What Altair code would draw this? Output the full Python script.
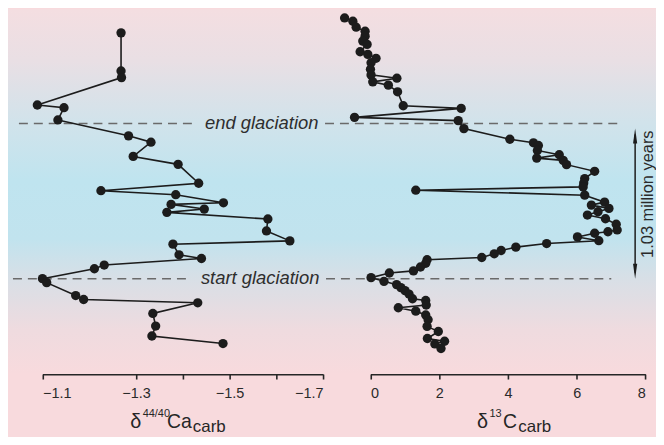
import altair as alt
import pandas as pd

# ---- data (stratigraphic height in arbitrary units) ----
ca_x = [-1.268, -1.268, -1.269, -1.089, -1.146, -1.133, -1.284, -1.332, -1.294, -1.390,
        -1.434, -1.225, -1.385, -1.487, -1.375, -1.446, -1.366, -1.582, -1.579, -1.629,
        -1.379, -1.392, -1.440, -1.232, -1.211, -1.100, -1.109, -1.171, -1.188, -1.432,
        -1.336, -1.342, -1.334, -1.486]
ca_h = [343.3, 305, 298.3, 270.7, 268, 255.7, 239.7, 233.3, 219, 211,
        192, 184.5, 180.5, 172.3, 170.7, 166, 162.7, 156, 144, 134,
        130.7, 120, 116.3, 109.7, 106, 96, 92, 79, 75, 71.7,
        61, 48.3, 38.3, 30.7]

c_x = [-0.752, -0.512, -0.416, -0.156, -0.156, -0.223, -0.098, -0.301, -0.078, 0.162,
       0.017, 0.0, 0.017, 0.769, 0.067, 0.521, 0.789, 0.954, 2.640, -0.463,
       2.554, 2.718, 4.057, 4.743, 4.887, 4.858, 5.494, 4.838, 5.610, 5.706,
       6.524, 6.235, 6.206, 6.189, 1.319, 6.235, 6.813, 6.429, 6.940, 6.622,
       6.313, 6.839, 7.152, 7.180, 6.911, 6.524, 6.024, 6.645, 5.127, 4.231,
       3.803, 3.603, 3.239, 1.648, 1.608, 1.455, 1.252, 0.549, 0.017, 0.393,
       0.761, 0.885, 1.006, 1.122, 1.223, 1.608, 1.622, 0.810, 1.319, 1.608,
       1.677, 1.648, 1.975, 1.657, 2.157, 1.874, 2.053]
c_h = [358.3, 355, 349, 345, 340, 335, 331.7, 324.3, 321.7, 317.7,
       313.3, 306.7, 301, 297.7, 294, 290.7, 284, 270, 267.3, 258.3,
       255, 247, 236.3, 232.7, 230, 225, 220.7, 217.3, 215, 210.7,
       204, 196.7, 192.3, 188.3, 185, 180, 173, 170, 166.7, 163.3,
       160, 156.3, 150.8, 145, 143.2, 141.7, 138, 134.2, 131.3, 127.7,
       124.3, 121, 117.3, 115, 111.5, 107.7, 103.8, 101.7, 97, 93.3,
       90, 87, 84, 80.5, 75.8, 74, 69.5, 66.7, 63.3, 59.5,
       54.7, 48, 42.8, 35.8, 33, 30.3, 25.7]

ca_ticks = [-1.1, -1.3, -1.4, -1.5, -1.6, -1.7]
ca_labels = [-1.1, -1.3, -1.5, -1.7]
c_ticks = [0, 2, 4, 6, 8]

end_glaciation_h = 252
start_glaciation_h = 96

FONT = "Liberation Sans"
INK = "#1c1c1c"
W, H = 652, 367

df_ca = pd.DataFrame({"x": ca_x, "h": ca_h, "i": range(len(ca_x))})
df_c = pd.DataFrame({"x": c_x, "h": c_h, "i": range(len(c_x))})
one = pd.DataFrame({"a": [0]})

yscale = alt.Scale(domain=[0, 367], nice=False, zero=False)
Y = alt.Y("h:Q", scale=yscale, axis=None)

# ---- background gradient ----
grad = alt.LinearGradient(
    gradient="linear", x1=0, x2=0, y1=0, y2=1,
    stops=[
        alt.GradientStop(offset=0.0, color="#f4dee1"),
        alt.GradientStop(offset=0.14, color="#e9dfe4"),
        alt.GradientStop(offset=0.31, color="#d1e3eb"),
        alt.GradientStop(offset=0.47, color="#bfe4ef"),
        alt.GradientStop(offset=0.63, color="#c1e3ee"),
        alt.GradientStop(offset=0.74, color="#d8dfe6"),
        alt.GradientStop(offset=0.88, color="#efdbdf"),
        alt.GradientStop(offset=1.0, color="#f8dadd"),
    ],
)
bg = alt.Chart(one).mark_rect(color=grad).encode(
    x=alt.value(0), x2=alt.value(W), y=alt.value(0), y2=alt.value(H)
)

# ---- glaciation dashed lines and labels ----
df_end = pd.DataFrame({"h": [end_glaciation_h]})
df_start = pd.DataFrame({"h": [start_glaciation_h]})
dash = dict(strokeDash=[9, 6], color="#6a6a6a", strokeWidth=1.5)
rules = [
    alt.Chart(df_end).mark_rule(**dash).encode(x=alt.value(11), x2=alt.value(189), y=Y),
    alt.Chart(df_end).mark_rule(**dash).encode(x=alt.value(319), x2=alt.value(617), y=Y),
    alt.Chart(df_start).mark_rule(**dash).encode(x=alt.value(5), x2=alt.value(185), y=Y),
    alt.Chart(df_start).mark_rule(**dash).encode(x=alt.value(320), x2=alt.value(607), y=Y),
]
gl_style = dict(font=FONT, fontSize=18.5, fontStyle="italic", color="#2e2e2e",
                align="center", baseline="alphabetic")
gl_text = [
    alt.Chart(df_end).mark_text(text="end  glaciation", dy=5, **gl_style).encode(
        x=alt.value(255.3), y=Y),
    alt.Chart(df_start).mark_text(text="start glaciation", dy=5.5, **gl_style).encode(
        x=alt.value(253.7), y=Y),
]

# ---- duration arrow ----
AX = 631
arrow_line = alt.Chart(one).mark_rule(color=INK, strokeWidth=1.5).encode(
    x=alt.value(AX), y=alt.value(126), y2=alt.value(265))
head_up = alt.Chart(one).mark_point(
    shape="M0,-1L0.28,1L-0.28,1Z", filled=True, size=225, color=INK, opacity=1
).encode(x=alt.value(AX), y=alt.value(127.5))
head_dn = alt.Chart(one).mark_point(
    shape="M0,1L0.28,-1L-0.28,-1Z", filled=True, size=225, color=INK, opacity=1
).encode(x=alt.value(AX), y=alt.value(263.5))
arrow_txt = alt.Chart(one).mark_text(
    text="1.03 million years", angle=270, font=FONT, fontSize=16.5, color="#2a2a2a",
    align="center", baseline="middle"
).encode(x=alt.value(644), y=alt.value(186))

# ---- axis titles built from text pieces (super/subscripts) ----
def piece(txt, x, y, size):
    return alt.Chart(one).mark_text(
        text=txt, font=FONT, fontSize=size, color="#262626", align="left",
        baseline="alphabetic"
    ).encode(x=alt.value(x), y=alt.value(y))

TB = 421.5   # main baseline
SB = 410.5   # superscript baseline
LB = 425     # subscript baseline
titles = [
    piece("δ", 123, TB, 20),
    piece("44/40", 135.5, SB, 11),
    piece("Ca", 160, TB, 19.5),
    piece("carb", 186, LB, 17),
    piece("δ", 472, TB, 20),
    piece("13", 484.5, SB, 11),
    piece("C", 498, TB, 19.5),
    piece("carb", 513.5, LB, 17),
]

# ---- data panels ----
axis_common = dict(orient="bottom", grid=False, title=None, domainColor="#262626",
                   domainWidth=1.8, tickColor="#262626", tickWidth=1.6, tickSize=5,
                   labelFont=FONT, labelFontSize=14.5, labelColor="#2a2a2a",
                   labelPadding=8)

ca_axis = alt.Axis(values=ca_ticks,
                   labelExpr="indexof([-1.1,-1.3,-1.5,-1.7], datum.value) >= 0 ? format(datum.value, '.1f') : ''",
                   **axis_common)
X_ca = alt.X("x:Q", scale=alt.Scale(domain=[-1.7, -1.1], range=[317, 34.7], nice=False, zero=False),
             axis=ca_axis)
ca_line = alt.Chart(df_ca).mark_line(color=INK, strokeWidth=1.6).encode(
    x=X_ca, y=Y, order="i:Q")
ca_pts = alt.Chart(df_ca).mark_circle(color=INK, size=88, opacity=1).encode(x=X_ca, y=Y)
ca_layer = alt.layer(ca_line, ca_pts)

c_axis = alt.Axis(values=c_ticks, format="d", **axis_common)
X_c = alt.X("x:Q", scale=alt.Scale(domain=[0, 8], range=[364.7, 641.3], nice=False, zero=False),
            axis=c_axis)
c_line = alt.Chart(df_c).mark_line(color=INK, strokeWidth=1.6).encode(
    x=X_c, y=Y, order="i:Q")
c_pts = alt.Chart(df_c).mark_circle(color=INK, size=88, opacity=1).encode(x=X_c, y=Y)
c_layer = alt.layer(c_line, c_pts)

chart = alt.layer(
    bg, *rules, *gl_text, arrow_line, head_up, head_dn, arrow_txt, *titles,
    ca_layer, c_layer
).resolve_scale(x="independent").properties(
    width=W, height=H, autosize=alt.AutoSizeParams(type="none"),
    padding={"left": 0, "top": 0, "right": 0, "bottom": 62},
    background="#f8dadd",
).configure_view(stroke=None)

chart.save("out.html", embed_options={"renderer": "svg", "actions": False})
